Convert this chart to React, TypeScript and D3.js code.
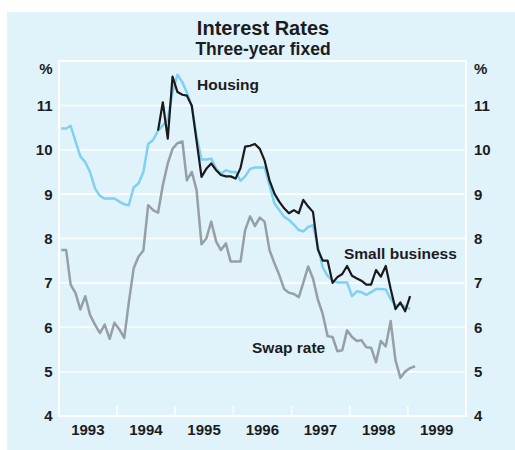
import React from "react";
import * as d3 from "d3";

// monthly observations, first point = January 1993
const housing = [
  10.48, 10.48, 10.54, 10.19, 9.85, 9.72, 9.5, 9.13, 8.96, 8.9, 8.9, 8.9,
  8.83, 8.77, 8.75, 9.15, 9.24, 9.5, 10.13, 10.22, 10.43, 10.55, 10.68, 11.3,
  11.69, 11.52, 11.29, 10.99, 10.3, 9.78, 9.78, 9.8, 9.57, 9.46, 9.54, 9.5,
  9.5, 9.3, 9.4, 9.57, 9.6, 9.6, 9.6, 9.2, 8.79, 8.64, 8.49, 8.42,
  8.31, 8.19, 8.16, 8.26, 8.3, 7.82, 7.35, 7.16, 7.05, 7.01, 7.01, 7.01,
  6.7, 6.81, 6.79, 6.73, 6.79, 6.86, 6.86, 6.85, 6.64, 6.49, 6.51, 6.47,
  6.41,
];

// small business starts in September 1994
const smallBusinessStart = 20;
const smallBusiness = [
  10.43, 11.07, 10.25, 11.65,
  11.3, 11.24, 11.22, 10.99, 10.2, 9.39, 9.57, 9.69, 9.54, 9.43, 9.4, 9.4,
  9.35, 9.59, 10.07, 10.09, 10.13, 10.02, 9.76, 9.31, 9.01, 8.83, 8.68, 8.57,
  8.64, 8.57, 8.87, 8.72, 8.6, 7.75, 7.5, 7.5, 7.0, 7.13, 7.2, 7.38,
  7.16, 7.1, 7.05, 6.96, 6.96, 7.29, 7.14, 7.38, 6.86, 6.41, 6.56, 6.36,
  6.7,
];

const swap = [
  7.74, 7.74, 6.96, 6.77, 6.4, 6.7, 6.28, 6.06, 5.87, 6.06, 5.74, 6.1,
  5.95, 5.76, 6.55, 7.33, 7.59, 7.73, 8.75, 8.64, 8.58, 9.2, 9.69, 10.02,
  10.15, 10.19, 9.31, 9.5, 9.09, 7.87, 8.0, 8.38, 7.93, 7.74, 7.89, 7.48,
  7.48, 7.48, 8.19, 8.5, 8.28, 8.47, 8.38, 7.74, 7.44, 7.18, 6.86, 6.78,
  6.75, 6.68, 7.0, 7.37, 7.1, 6.62, 6.3, 5.8, 5.78, 5.46, 5.48, 5.93,
  5.78, 5.69, 5.71, 5.55, 5.54, 5.21, 5.69, 5.57, 6.14, 5.26, 4.86, 5.0,
  5.08, 5.12,
];

const years = [1993, 1994, 1995, 1996, 1997, 1998, 1999];
const yTicks = [4, 5, 6, 7, 8, 9, 10, 11];

const W = 515;
const H = 450;
const left = 59;
const right = 466;
const top = 61;
const bottom = 416;

const font = "'Liberation Sans', Arial, Helvetica, sans-serif";
const ink = "#1c1c1e";

const monthDate = (i: number) => d3.timeDay.offset(d3.timeMonth.offset(new Date(1993, 0, 1), i), 14);

export default function App() {
  const x = d3
    .scaleTime()
    .domain([new Date(1993, 0, 1), new Date(2000, 0, 1)])
    .range([left, right]);
  const y = d3.scaleLinear().domain([4, 12]).range([bottom, top]);

  const line = d3
    .line<[number, number]>()
    .x((d) => x(monthDate(d[0])))
    .y((d) => y(d[1]));

  const housingPts = housing.map((v, i) => [i, v] as [number, number]);
  const sbPts = smallBusiness.map((v, i) => [i + smallBusinessStart, v] as [number, number]);
  const swapPts = swap.map((v, i) => [i, v] as [number, number]);

  return (
    <svg
      width={W}
      height={H}
      style={{ position: "absolute", left: 0, top: 0 }}
      fontFamily={font}
    >
      <rect x={7} y={12} width={W - 7} height={H - 12} fill="#e0f2fa" />

      <text x={263} y={34.5} textAnchor="middle" fontSize={20} fontWeight="bold" fill={ink}>
        Interest Rates
      </text>
      <text x={263} y={54.5} textAnchor="middle" fontSize={17.5} fontWeight="bold" fill={ink}>
        Three-year fixed
      </text>

      {/* grid */}
      {yTicks.slice(1).map((t) => (
        <line key={t} x1={left} x2={right} y1={y(t)} y2={y(t)} stroke="#ffffff" strokeWidth={1.5} />
      ))}
      {years.slice(1).map((yr) => (
        <line
          key={yr}
          x1={x(new Date(yr, 0, 1))}
          x2={x(new Date(yr, 0, 1))}
          y1={bottom}
          y2={bottom - 10}
          stroke="#ffffff"
          strokeWidth={1.5}
        />
      ))}
      <rect x={left} y={top} width={right - left} height={bottom - top} fill="none" stroke="#ffffff" strokeWidth={2} />

      {/* y labels */}
      {yTicks.map((t) => (
        <g key={t} fontSize={15} fontWeight="bold" fill={ink}>
          <text x={52.5} y={y(t)} dy="0.36em" textAnchor="end">
            {t}
          </text>
          <text x={474} y={y(t)} dy="0.36em" textAnchor="start">
            {t}
          </text>
        </g>
      ))}
      <text x={52.5} y={74} textAnchor="end" fontSize={15} fontWeight="bold" fill={ink}>
        %
      </text>
      <text x={474} y={74} textAnchor="start" fontSize={15} fontWeight="bold" fill={ink}>
        %
      </text>

      {/* x labels */}
      {years.map((yr) => (
        <text
          key={yr}
          x={x(new Date(yr, 6, 1))}
          y={435}
          textAnchor="middle"
          fontSize={15}
          fontWeight="bold"
          fill={ink}
        >
          {yr}
        </text>
      ))}

      {/* series */}
      <path d={line(swapPts) ?? ""} fill="none" stroke="#979fa6" strokeWidth={2.5} strokeLinejoin="round" />
      <path d={line(housingPts) ?? ""} fill="none" stroke="#80d0f4" strokeWidth={2.5} strokeLinejoin="round" />
      <path d={line(sbPts) ?? ""} fill="none" stroke="#1a1a1a" strokeWidth={2.2} strokeLinejoin="round" />

      <g fontSize={15.5} fontWeight="bold" fill={ink}>
        <text x={197} y={90}>Housing</text>
        <text x={344} y={259}>Small business</text>
        <text x={252} y={353}>Swap rate</text>
      </g>
    </svg>
  );
}
